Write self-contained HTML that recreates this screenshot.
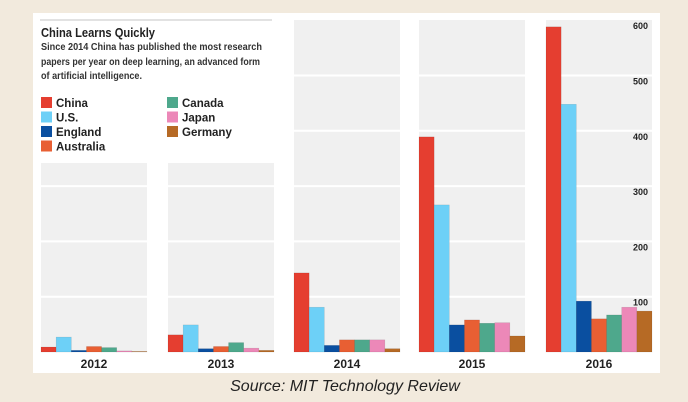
<!DOCTYPE html>
<html><head><meta charset="utf-8">
<style>
html,body{margin:0;padding:0;background:#f2eadd;}
body{width:688px;height:402px;overflow:hidden;position:relative;font-family:"Liberation Sans",Arial,sans-serif;}
svg{position:absolute;left:0;top:0;}
</style></head>
<body>
<svg id="chart" width="688" height="402">
<rect x="33" y="13" width="627" height="360" fill="#ffffff"/>
<rect x="40" y="19" width="232" height="2" fill="#e2e2e2"/>
<text x="41" y="37" font-size="13" font-weight="bold" fill="#222" textLength="114" lengthAdjust="spacingAndGlyphs">China Learns Quickly</text>
<g font-size="10" font-weight="bold" fill="#333">
<text x="41" y="50" textLength="221" lengthAdjust="spacingAndGlyphs">Since 2014 China has published the most research</text>
<text x="41" y="65" textLength="219" lengthAdjust="spacingAndGlyphs">papers per year on deep learning, an advanced form</text>
<text x="41" y="79" textLength="101" lengthAdjust="spacingAndGlyphs">of artificial intelligence.</text>
</g>
<g id="legend"></g>
<g id="plots"></g>
<text x="345" y="391" font-size="16" font-style="italic" fill="#222" text-anchor="middle">Source: MIT Technology Review</text>
</svg>
<script>
const years = ["2012","2013","2014","2015","2016"];
const countries = ["China","U.S.","England","Australia","Canada","Japan","Germany"];
const colors = ["#e53e30","#6dd0f7","#0a4fa0","#e85f33","#4ea88c","#ec88b8","#b66a25"];
const china = [9,31,143,389,588];
const us = [27,49,81,266,448];
const england = [3,6,12,49,92];
const australia = [10,10,22,58,60];
const canada = [8,17,22,52,67];
const japan = [2,7,22,53,81];
const germany = [1,3,6,29,74];
const ticks = [100,200,300,400,500,600];
const series = [china,us,england,australia,canada,japan,germany];

const NS = "http://www.w3.org/2000/svg";
const baseY = 352, pxPer = 0.553;
const yScale = v => baseY - v * pxPer;
const panelX = [41,168,294,419,546], panelW = 106;
const xScale = (p, i) => panelX[p] + i * (panelW / 7);
function mk(tag, attrs, parent){const e=document.createElementNS(NS,tag);for(const k in attrs)e.setAttribute(k,attrs[k]);parent.appendChild(e);return e;}
const plots = document.getElementById("plots");
years.forEach((yr,p)=>{
  const g = mk("g",{},plots);
  
  
  const top = p < 2 ? 163 : 20;
  const bg = mk("rect",{x:panelX[p],y:top,width:panelW,height:baseY-top,fill:"#f0f0f0"},g);
  
  
  ticks.forEach(t=>{
    const y = yScale(t);
    if (y > top + 1) {
      const l = mk("line",{x1:panelX[p],x2:panelX[p]+panelW,y1:y,y2:y,stroke:"#ffffff","stroke-width":2},g);
      
      
    }
  });
  series.forEach((s,i)=>{
    const y = yScale(s[p]);
    const r = mk("rect",{x:xScale(p,i),y:y,width:panelW/7,height:baseY-y,fill:colors[i],stroke:"rgba(0,0,0,0.15)","stroke-width":0.5},g);
    
    
  });
  const t = mk("text",{x:panelX[p]+panelW/2,y:368,"font-size":12,"font-weight":"bold",fill:"#222","text-anchor":"middle"},g);
  t.textContent = yr;
  
  
});
const axis = mk("g",{},plots);


ticks.forEach(t=>{
  const tx = mk("text",{x:648,y:yScale(t)+9,"font-size":9,"font-weight":"bold",fill:"#222","text-anchor":"end"},axis);
  tx.textContent = t;
  
  
});
const legend = document.getElementById("legend");
countries.forEach((c,i)=>{
  const col = i < 4 ? 0 : 1, row = i < 4 ? i : i - 4;
  const x = col ? 167 : 41, y = 97 + row * 14.5;
  const g = mk("g",{},legend);
  
  
  mk("rect",{x:x,y:y,width:11,height:11,fill:colors[i]},g);
  const t = mk("text",{x:x+15,y:y+10,"font-size":11.5,"font-weight":"bold",fill:"#222"},g);
  t.textContent = c;
});
</script>
</body></html>
